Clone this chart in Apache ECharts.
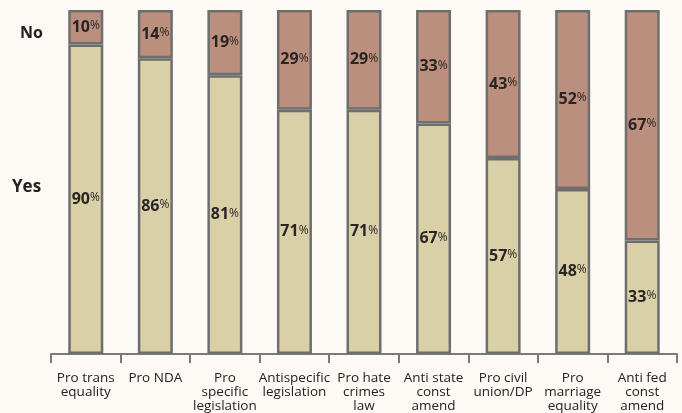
<!DOCTYPE html>
<html>
<head>
<meta charset="utf-8">
<script src="https://cdn.jsdelivr.net/npm/echarts@6/dist/echarts.min.js"></script>
<style>
html,body{margin:0;padding:0;background:#fdfaf5;}
#c{width:682px;height:413px;}
</style>
</head>
<body>
<div id="c"></div>
<script>
const categories = ["Pro trans\nequality","Pro NDA","Pro\nspecific\nlegislation","Antispecific\nlegislation","Pro hate\ncrimes\nlaw","Anti state\nconst\namend","Pro civil\nunion/DP","Pro\nmarriage\nequality","Anti fed\nconst\namend"];
const yesValues = [90,86,81,71,71,67,57,48,33];
const noValues = [10,14,19,29,29,33,43,52,67];
const rowLabels = ["No","Yes"];

const FONT = '"Open Sans", "Noto Sans", sans-serif';
const chart = echarts.init(document.getElementById('c'));
const valueLabel = {
  show: true,
  position: 'inside',
  formatter: p => '{n|' + p.value + '}{p|%}',
  rich: {
    n: {fontFamily: FONT, fontSize: 16, fontWeight: 'bold', color: '#2a2522'},
    p: {fontFamily: FONT, fontSize: 12, color: '#2a2522', padding: [0,0,3,0]}
  }
};
chart.setOption({
  backgroundColor: '#fdfaf5',
  animation: false,
  grid: {left: 51, right: 5, top: 10, bottom: 59},
  xAxis: {
    type: 'category',
    data: categories,
    axisLine: {show: true, lineStyle: {color: '#7a7a7a', width: 2}},
    axisTick: {show: true, length: 9, lineStyle: {color: '#7a7a7a', width: 2}},
    axisLabel: {fontFamily: FONT, fontSize: 13.5, color: '#222', lineHeight: 14, margin: 17, interval: 0}
  },
  yAxis: {type: 'value', min: 0, max: 100, show: false},
  graphic: [
    {type: 'text', left: 20, top: 25, style: {text: rowLabels[0], font: 'bold 16px ' + FONT, fill: '#222'}},
    {type: 'text', left: 12, top: 179, style: {text: rowLabels[1], font: 'bold 17px ' + FONT, fill: '#222'}}
  ],
  series: [
    {type: 'bar', stack: 's', data: yesValues, barWidth: 35,
     itemStyle: {color: '#d9d0a8', borderColor: '#6e6e6e', borderWidth: 2.5},
     label: valueLabel},
    {type: 'bar', stack: 's', data: noValues, barWidth: 35,
     itemStyle: {color: '#bb8f7e', borderColor: '#6e6e6e', borderWidth: 2.5},
     label: valueLabel}
  ]
});
</script>
</body>
</html>
